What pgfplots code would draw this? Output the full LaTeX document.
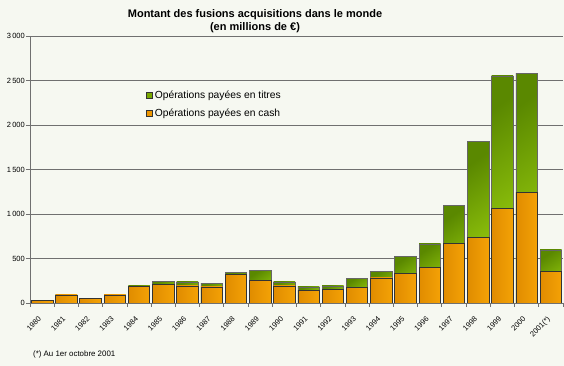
\documentclass[border=0pt]{standalone}
\usepackage{fontspec}
\setmainfont{Liberation Sans}
\usepackage{pgfplots}
\pgfplotsset{compat=1.18}
\definecolor{bgc}{HTML}{F6F8F1}
\definecolor{grd}{HTML}{707070}
\definecolor{orL}{HTML}{E08C00}
\definecolor{orR}{HTML}{F4A206}
\definecolor{grL}{HTML}{5A8800}
\definecolor{grR}{HTML}{A2D810}
\definecolor{orF}{HTML}{EE9600}
\definecolor{grF}{HTML}{78A800}
% #1 = x position, #2 = cash, #3 = total (cash + titres)
\newcommand\yb[3]{%
  \addplot[forget plot, ybar, bar shift=0pt, bar width=21.5pt, draw=black!60, line width=0.7pt, top color=grL, bottom color=grR, shading angle=35] coordinates {(#1,#3)};
  \addplot[forget plot, ybar, bar shift=0pt, bar width=21.5pt, draw=black!80, line width=0.7pt, left color=orL, right color=orR] coordinates {(#1,#2)};
}
\begin{document}
\begin{tikzpicture}[x=1pt,y=1pt]
\fill[bgc] (0,0) rectangle (564,366);
\begin{axis}[
  at={(30pt,63pt)}, anchor=south west,
  scale only axis, width=533pt, height=267pt,
  xmin=-0.5, xmax=21.5, ymin=0, ymax=3000,
  axis lines*=left,
  axis line style={grd, line width=0.8pt},
  xtick={0,...,21},
  xticklabels={1980,1981,1982,1983,1984,1985,1986,1987,1988,1989,1990,1991,1992,1993,1994,1995,1996,1997,1998,1999,2000,2001(*)},
  major x tick style={draw=none},
  minor xtick={-0.5,0.5,...,21.5},
  minor x tick style={grd, line width=0.8pt},
  minor tick length=4pt,
  tick align=outside,
  xticklabel style={rotate=45, anchor=north east, inner sep=1pt, font=\fontsize{7.5}{8}\selectfont, xshift=-8pt, yshift=-2pt},
  ytick={0,500,...,3000},
  major y tick style={grd, line width=0.8pt},
  major tick length=4pt,
  yticklabel style={font=\fontsize{7.5}{8}\selectfont, inner sep=1pt},
  /pgf/number format/assume math mode=true,
  /pgf/number format/1000 sep={\,},
  ymajorgrids, grid style={grd, line width=0.8pt},
  legend style={at={(0.2176,0.803)}, anchor=north west, draw=none, fill=none,
    font=\fontsize{10.3}{11}\selectfont, row sep=5pt, inner sep=0pt},
  legend cell align=left,
  legend image code/.code={\draw[#1, draw=black!80, line width=0.6pt] (0pt,-3pt) rectangle (6pt,3pt);},
]
\yb{0}{25}{25}
\yb{1}{90}{90}
\yb{2}{55}{55}
\yb{3}{90}{90}
\yb{4}{183}{191}
\yb{5}{210}{247}
\yb{6}{191}{236}
\yb{7}{180}{221}
\yb{8}{322}{348}
\yb{9}{251}{363}
\yb{10}{191}{236}
\yb{11}{146}{180}
\yb{12}{157}{191}
\yb{13}{175}{273}
\yb{14}{281}{352}
\yb{15}{337}{525}
\yb{16}{404}{663}
\yb{17}{674}{1093}
\yb{18}{734}{1820}
\yb{19}{1060}{2552}
\yb{20}{1246}{2582}
\yb{21}{352}{596}
\addlegendimage{fill=grF}
\addlegendentry{Opérations payées en titres}
\addlegendimage{fill=orF}
\addlegendentry{Opérations payées en cash}
\end{axis}
\node[font=\bfseries\fontsize{11}{13.5}\selectfont, align=center] at (255,345) {Montant des fusions acquisitions dans le monde\\(en millions de €)};
\node[font=\fontsize{7.9}{8}\selectfont, anchor=west, inner sep=0pt] at (33,12) {(*) Au 1er octobre 2001};
\pgfresetboundingbox
\useasboundingbox (0,0) rectangle (564,366);
\end{tikzpicture}
\end{document}
